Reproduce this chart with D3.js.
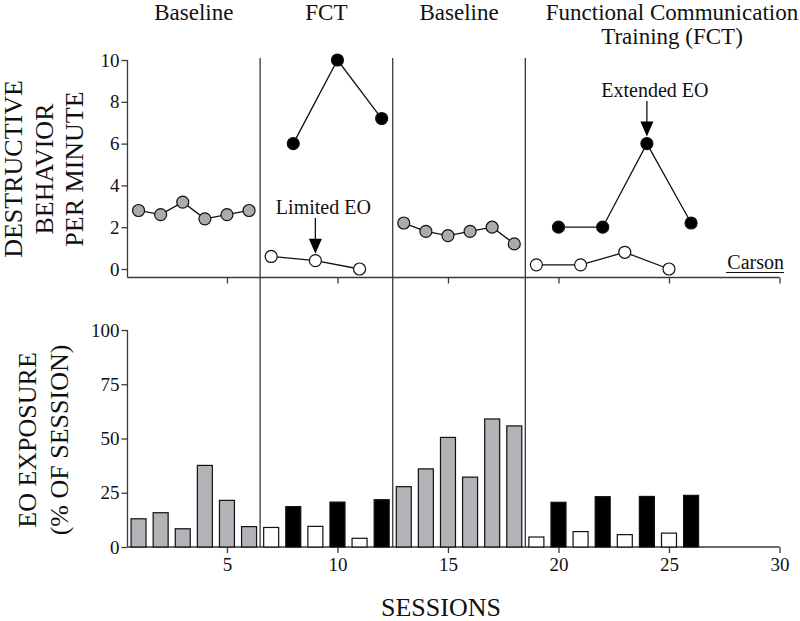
<!DOCTYPE html>
<html><head><meta charset="utf-8">
<script src="https://cdn.jsdelivr.net/npm/d3@7"></script>
<style>body{margin:0;background:#fff}svg{display:block}text{font-family:"Liberation Serif","Times New Roman",serif;fill:#111}</style>
</head><body><svg id="c" width="800" height="621"></svg>
<script>
// ---- data ----
const phaseLabels = ["Baseline", "FCT", "Baseline", "Functional Communication|Training (FCT)"];
const phaseBounds = [0.5, 6.5, 12.5, 18.5, 30];
const xTicks = [5, 10, 15, 20, 25, 30];
const topTicks = [0, 2, 4, 6, 8, 10];
const botTicks = [0, 25, 50, 75, 100];

// top panel: destructive behavior per minute
const base1Sessions = [1, 2, 3, 4, 5, 6];
const base1Values = [2.8, 2.6, 3.2, 2.4, 2.6, 2.8];
const fct1BlackSessions = [8, 10, 12];
const fct1BlackValues = [6, 10, 7.2];
const fct1WhiteSessions = [7, 9, 11];
const fct1WhiteValues = [0.6, 0.4, 0];
const base2Sessions = [13, 14, 15, 16, 17, 18];
const base2Values = [2.2, 1.8, 1.6, 1.8, 2.0, 1.2];
const fct2BlackSessions = [20, 22, 24, 26];
const fct2BlackValues = [2, 2, 6, 2.2];
const fct2WhiteSessions = [19, 21, 23, 25];
const fct2WhiteValues = [0.2, 0.2, 0.8, 0];

// bottom panel: EO exposure (% of session)
const barSessions = [1,2,3,4,5,6,7,8,9,10,11,12,13,14,15,16,17,18,19,20,21,22,23,24,25,26];
const barValues = [13.0,15.8,8.4,37.6,21.5,9.4, 9.0,18.6,9.5,20.7,4.0,21.8, 27.8,36.0,50.5,32.2,59.0,55.8, 4.6,20.6,7.1,23.2,5.7,23.3,6.4,23.8];
const barKinds = ["g","g","g","g","g","g","w","b","w","b","w","b","g","g","g","g","g","g","w","b","w","b","w","b","w","b"];

// ---- drawing ----
const svg = d3.select("#c");
const GRAY = "#ababab", BARGRAY = "#b3b3b7", AX = "#3a3a3a";
const x = d3.scaleLinear().domain([0.5, 30]).range([127.5, 779.5]);
const yT = d3.scaleLinear().domain([0, 10]).range([269, 60]);
const yB = d3.scaleLinear().domain([0, 100]).range([547, 330]);

// phase titles
phaseLabels.forEach((lab, i) => {
  const cx = (x(phaseBounds[i]) + x(i === 3 ? 29.6 : phaseBounds[i + 1])) / 2;
  const lines = lab.split("|");
  lines.forEach((l, j) => {
    svg.append("text").attr("x", i === 3 ? 672 : cx).attr("y", 20 + j * 24)
      .attr("text-anchor", "middle").attr("font-size", 23).text(l);
  });
});

// phase change lines
[6.5, 12.5, 18.5].forEach(s => {
  svg.append("line").attr("x1", x(s)).attr("x2", x(s)).attr("y1", 58).attr("y2", 547)
    .attr("stroke", AX).attr("stroke-width", 1.3);
});

// top axes
const topY = svg.append("g").attr("transform", `translate(${x(0.5)},0)`)
  .call(d3.axisLeft(yT).tickValues(topTicks).tickSize(6).tickPadding(2));
topY.select(".domain").remove();
svg.append("line").attr("x1", x(0.5)).attr("x2", x(0.5)).attr("y1", 60).attr("y2", 277.5).attr("stroke", AX).attr("stroke-width", 1.3);
const topX = svg.append("g").attr("transform", "translate(0,277.5)")
  .call(d3.axisBottom(x).tickValues(xTicks).tickSize(6).tickFormat(""));
topX.select(".domain").attr("d", `M${x(0.5)},0H${x(30)}`);

// bottom axes
const botY = svg.append("g").attr("transform", `translate(${x(0.5)},0)`)
  .call(d3.axisLeft(yB).tickValues(botTicks).tickSize(6).tickPadding(2));
botY.select(".domain").attr("d", `M0,${yB(100)}V${yB(0)}`);
const botX = svg.append("g").attr("transform", `translate(0,${yB(0)})`)
  .call(d3.axisBottom(x).tickValues(xTicks).tickSize(6).tickPadding(5));
botX.select(".domain").attr("d", `M${x(0.5)},0H${x(30)}`);

svg.selectAll(".tick text").attr("font-size", 19).attr("font-family", "Liberation Serif, serif").attr("fill", "#111");
svg.selectAll(".tick line, .domain").attr("stroke", AX).attr("stroke-width", 1.3);

// bars
const bw = 15;
svg.append("g").selectAll("rect").data(barSessions).join("rect")
  .attr("x", (d) => x(d) - bw / 2)
  .attr("y", (d, i) => yB(barValues[i]))
  .attr("width", bw)
  .attr("height", (d, i) => yB(0) - yB(barValues[i]))
  .attr("fill", (d, i) => barKinds[i] === "g" ? BARGRAY : barKinds[i] === "b" ? "#000" : "#fff")
  .attr("stroke", "#111").attr("stroke-width", 1.2);

// lines + points
const line = d3.line().x(d => x(d[0])).y(d => yT(d[1]));
function series(ss, vs, fill) {
  const pts = ss.map((s, i) => [s, vs[i]]);
  svg.append("path").datum(pts).attr("d", line).attr("fill", "none").attr("stroke", "#111").attr("stroke-width", 1.3);
  svg.append("g").selectAll("circle").data(pts).join("circle")
    .attr("cx", d => x(d[0])).attr("cy", d => yT(d[1])).attr("r", 6)
    .attr("fill", fill).attr("stroke", "#111").attr("stroke-width", 1.2);
}
series(base1Sessions, base1Values, GRAY);
series(fct1BlackSessions, fct1BlackValues, "#000");
series(fct1WhiteSessions, fct1WhiteValues, "#fff");
series(base2Sessions, base2Values, GRAY);
series(fct2BlackSessions, fct2BlackValues, "#000");
series(fct2WhiteSessions, fct2WhiteValues, "#fff");

// annotations
function arrow(session, value, label, textY) {
  const ax = x(session), tip = yT(value) - 7;
  svg.append("text").attr("x", ax + 8).attr("y", textY).attr("text-anchor", "middle").attr("font-size", 20).text(label);
  svg.append("line").attr("x1", ax).attr("x2", ax).attr("y1", textY + 4).attr("y2", tip - 12).attr("stroke", "#111").attr("stroke-width", 1.3);
  svg.append("path").attr("d", `M${ax - 6.5},${tip - 15}L${ax + 6.5},${tip - 15}L${ax},${tip}Z`).attr("fill", "#000");
}
arrow(9, fct1WhiteValues[1], "Limited EO", 214);
arrow(24, fct2BlackValues[2], "Extended EO", 97);

// Carson
svg.append("text").attr("x", 784).attr("y", 269).attr("text-anchor", "end").attr("font-size", 20).text("Carson");
svg.append("line").attr("x1", 726).attr("x2", 784).attr("y1", 272.5).attr("y2", 272.5).attr("stroke", "#111").attr("stroke-width", 1);

// axis titles
function vlabel(lines, cy, xs) {
  lines.forEach((l, i) => {
    svg.append("text").attr("transform", `translate(${xs[i]},${cy}) rotate(-90)`)
      .attr("text-anchor", "middle").attr("font-size", 26).text(l);
  });
}
vlabel(["DESTRUCTIVE", "BEHAVIOR", "PER MINUTE"], 169, [22, 53, 83]);
vlabel(["EO EXPOSURE", "(% OF SESSION)"], 440, [36, 68]);
svg.append("text").attr("x", 441).attr("y", 616).attr("text-anchor", "middle").attr("font-size", 26).text("SESSIONS");
</script></body></html>
